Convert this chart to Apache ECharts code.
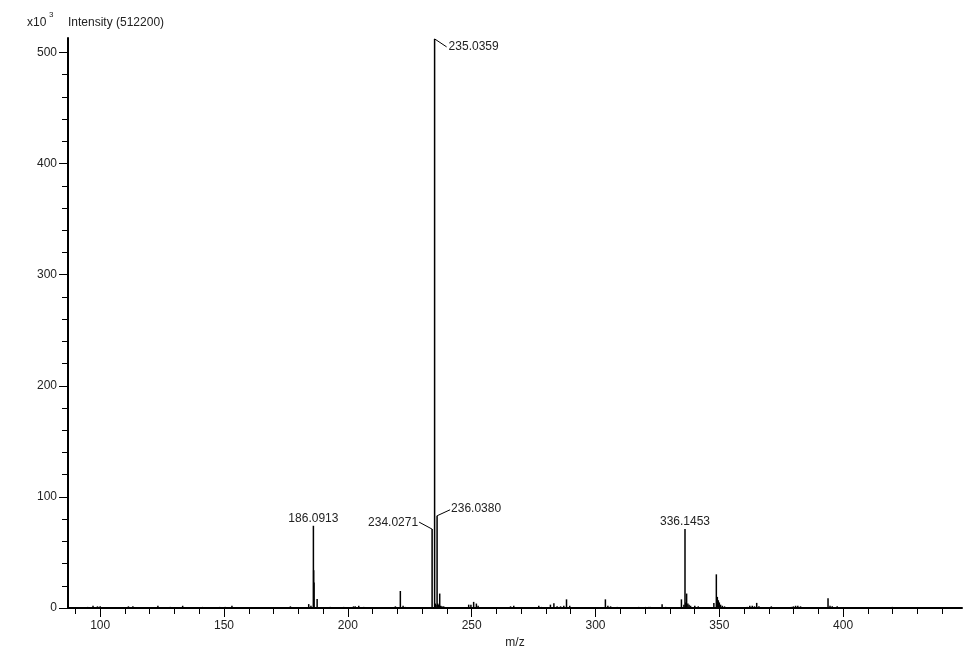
<!DOCTYPE html>
<html>
<head>
<meta charset="utf-8">
<script src="https://cdn.jsdelivr.net/npm/echarts@6/dist/echarts.min.js"></script>
<style>
  html, body { margin: 0; padding: 0; background: #fff; }
  #chart { width: 967px; height: 651px; }
</style>
</head>
<body>
<div id="chart"></div>
<script>
// spectrum sticks: m/z and intensity (x10^3)
var peakMz = [
  89.0, 93.0, 94.9, 97.1, 98.9, 100.0, 101.1, 111.4, 113.2, 114.5, 116.8, 123.3, 128.3, 133.3,
  141.3, 148.2, 150.5, 153.2, 175.4, 176.8, 184.2, 185.1, 186.0913, 186.20, 186.35, 187.6,
  192.9, 198.3, 202.3, 203.0, 204.4, 206.4, 209.4, 219.2, 221.2, 222.3, 223.2, 230.0,
  234.0271, 235.0359, 235.3, 235.6, 236.0380, 236.3, 236.6, 237.1, 237.5, 238.0, 238.7, 240.1,
  248.8, 249.7, 250.8, 251.9, 252.6, 257.9, 259.0, 263.0, 264.3, 265.7, 267.0, 268.0,
  277.1, 278.2, 281.8, 283.2, 284.5, 285.9, 287.2, 288.3, 289.6, 290.6, 297.3,
  304.0, 305.0, 306.1, 307.4, 308.8, 317.4, 318.8, 320.2, 321.5, 322.2,
  323.6, 326.9, 328.3, 333.0, 334.7, 335.7, 336.1453, 336.5, 336.8, 337.3, 337.8, 338.4, 340.1, 341.5,
  347.8, 348.8, 349.2, 349.6, 350.0, 350.5, 351.2, 352.1,
  361.3, 362.3, 363.3, 364.2, 365.1, 366.0, 367.3, 368.4, 371.0,
  379.1, 379.9, 380.8, 381.7, 382.8, 383.8, 393.9, 394.7, 395.6, 397.6, 398.7, 399.9,
  419.9, 430.0, 438.0
];
var peakIntensity = [
  1, 1, 1, 2, 1.5, 1.5, 1, 1.5, 1.5, 1, 1, 2, 1, 2,
  1, 1, 1, 2, 1, 1.5, 3.5, 2, 74, 34, 23, 8,
  1, 1, 1.5, 1.5, 2, 1, 1, 1.5, 15.3, 2, 1, 1,
  71, 512.2, 4, 3, 83, 4, 3, 13, 2, 1.5, 1.5, 1,
  3, 3, 5.5, 4, 2, 1, 1, 1, 1, 1.5, 2, 1,
  2, 1, 3, 4.2, 1.5, 1.5, 2, 7.8, 2, 1, 1,
  7.8, 2, 1.5, 1, 1, 1, 1, 1, 1, 1,
  1, 3.3, 1, 1, 7.8, 3, 71, 5, 13, 4, 3, 2, 2, 1.5,
  4.6, 30.3, 10, 7, 5, 3, 2, 1.5,
  1, 2, 2, 1.5, 4.6, 1.5, 1, 1, 1.5,
  1, 1.5, 2, 2, 1.5, 1, 8.7, 2, 1.5, 1.5, 1, 1,
  1, 0.5, 0.5
];

// annotated peaks
var labelMz = [186.0913, 234.0271, 235.0359, 236.0380, 336.1453];
var labelIntensity = [74, 71, 512.2, 83, 71];
var labelText = ['186.0913', '234.0271', '235.0359', '236.0380', '336.1453'];

var xMajorTicks = [100, 150, 200, 250, 300, 350, 400];
var xMinorTicks = [90, 110, 120, 130, 140, 160, 170, 180, 190, 210, 220, 230, 240, 260, 270, 280, 290,
  310, 320, 330, 340, 360, 370, 380, 390, 410, 420, 430, 440];
var yMajorTicks = [0, 100, 200, 300, 400, 500];
var yMinorTicks = [20, 40, 60, 80, 120, 140, 160, 180, 220, 240, 260, 280, 320, 340, 360, 380,
  420, 440, 460, 480];

var FONT = 'Liberation Sans, Arial, sans-serif';
var TXT = '#222';

// leader line / text placement per annotation, pixels from the peak top
var labelLayout = [
  { line: null, tx: 0, ty: -7, align: 'center' },
  { line: [-13, -7], tx: -14, ty: -6, align: 'right' },
  { line: [12, 8], tx: 14, ty: 8, align: 'left' },
  { line: [13, -6], tx: 14, ty: -7, align: 'left' },
  { line: null, tx: 0, ty: -7, align: 'center' }
];

var sticks = [];
for (var i = 0; i < peakMz.length; i++) {
  sticks.push([peakMz[i], peakIntensity[i]]);
}

var chart = echarts.init(document.getElementById('chart'));

var option = {
  animation: false,
  backgroundColor: '#fff',
  textStyle: { fontFamily: FONT },
  grid: { left: 68, right: 5, top: 38, bottom: 43, outerBoundsMode: 'none', containLabel: false },
  xAxis: [
    {
      type: 'value',
      position: 'bottom',
      min: 87,
      max: 448,
      name: 'm/z',
      nameLocation: 'middle',
      nameGap: 27,
      nameTextStyle: { fontSize: 12, color: TXT, fontFamily: FONT },
      axisLine: { onZero: false, lineStyle: { color: '#000', width: 2 } },
      axisTick: { length: 9, customValues: xMajorTicks, lineStyle: { color: '#000', width: 1 } },
      axisLabel: { customValues: xMajorTicks, fontSize: 12, color: TXT, margin: 12, fontFamily: FONT },
      splitLine: { show: false }
    },
    {
      type: 'value',
      position: 'bottom',
      min: 87,
      max: 448,
      axisLine: { show: false, onZero: false },
      axisTick: { length: 6, customValues: xMinorTicks, lineStyle: { color: '#000', width: 1 } },
      axisLabel: { show: false },
      splitLine: { show: false }
    }
  ],
  yAxis: [
    {
      type: 'value',
      position: 'left',
      min: 0,
      max: 513,
      axisLine: { show: true, onZero: false, lineStyle: { color: '#000', width: 2 } },
      axisTick: { show: true, length: 9, customValues: yMajorTicks, lineStyle: { color: '#000', width: 1 } },
      axisLabel: { customValues: yMajorTicks, fontSize: 12, color: TXT, margin: 11, fontFamily: FONT },
      splitLine: { show: false }
    },
    {
      type: 'value',
      position: 'left',
      min: 0,
      max: 513,
      axisLine: { show: false, onZero: false },
      axisTick: { show: true, length: 6, customValues: yMinorTicks, lineStyle: { color: '#000', width: 1 } },
      axisLabel: { show: false },
      splitLine: { show: false }
    }
  ],
  series: [
    {
      type: 'bar',
      xAxisIndex: 0,
      yAxisIndex: 0,
      data: sticks,
      barWidth: 1.5,
      itemStyle: { color: '#000' },
      silent: true
    }
  ],
  graphic: [
    { type: 'text', left: 27, top: 17, style: { text: 'x10', fill: TXT, font: '12px ' + FONT } },
    { type: 'text', left: 49, top: 11, style: { text: '3', fill: TXT, font: '8px ' + FONT } },
    { type: 'text', left: 68, top: 17, style: { text: 'Intensity (512200)', fill: TXT, font: '12px ' + FONT } }
  ]
};

chart.setOption(option);

// peak annotations placed from the peak tops via the chart's own scales
var extra = [];
for (var k = 0; k < labelMz.length; k++) {
  var p = chart.convertToPixel({ xAxisIndex: 0, yAxisIndex: 0 }, [labelMz[k], labelIntensity[k]]);
  var lay = labelLayout[k];
  if (lay.line) {
    extra.push({
      type: 'polyline',
      shape: { points: [[p[0], p[1]], [p[0] + lay.line[0], p[1] + lay.line[1]]] },
      style: { stroke: '#000', lineWidth: 1, fill: null },
      silent: true
    });
  }
  extra.push({
    type: 'text',
    x: p[0] + lay.tx,
    y: p[1] + lay.ty,
    style: {
      text: labelText[k],
      font: '12px ' + FONT,
      fill: TXT,
      align: lay.align,
      verticalAlign: 'middle'
    },
    silent: true
  });
}
chart.setOption({ graphic: option.graphic.concat(extra) });
</script>
</body>
</html>
